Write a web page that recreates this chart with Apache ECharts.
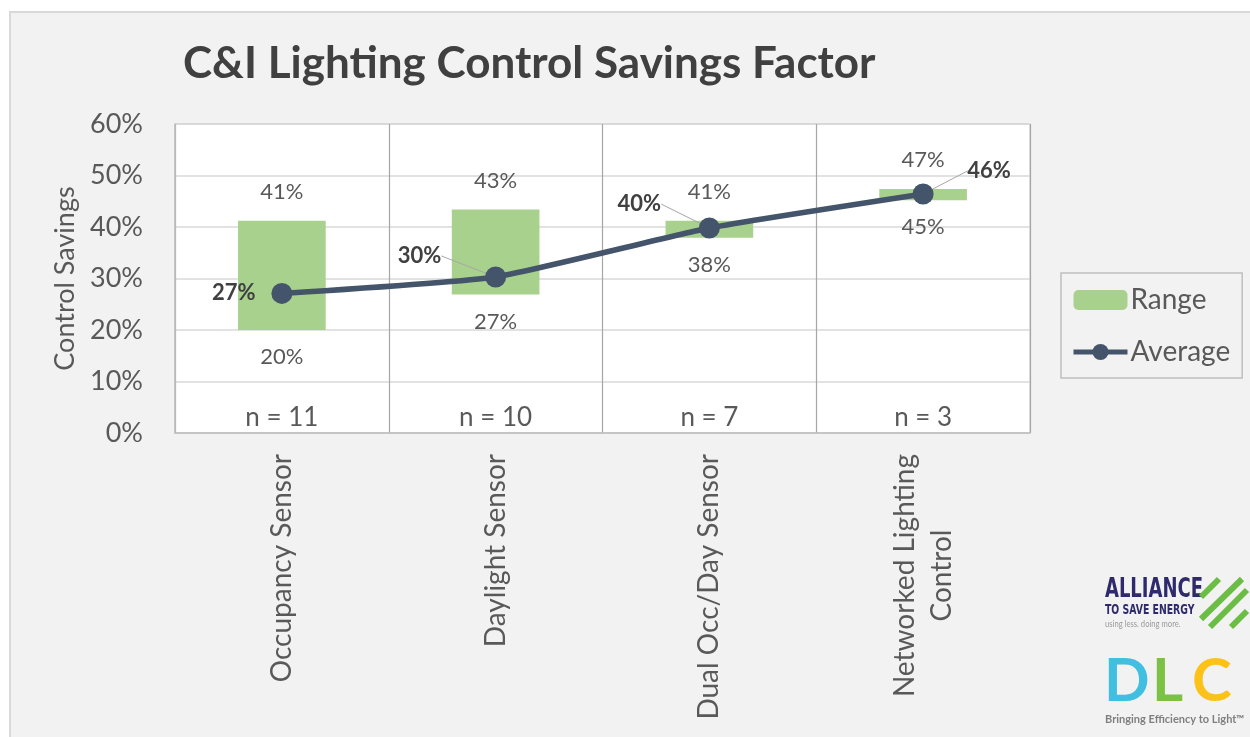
<!DOCTYPE html>
<html>
<head>
<meta charset="utf-8">
<title>C&amp;I Lighting Control Savings Factor</title>
<script src="https://cdn.jsdelivr.net/npm/echarts@6/dist/echarts.min.js"></script>
<style>
  html, body { margin: 0; padding: 0; background: #fff; }
  #chart { width: 1250px; height: 737px; }
</style>
</head>
<body>
<div id="chart"></div>
<script>
// values
const categories = ['Occupancy Sensor', 'Daylight Sensor', 'Dual Occ/Day Sensor', 'Networked Lighting\nControl'];
const sampleSizes = [11, 10, 7, 3];
const rangeMin = [20.0, 26.9, 37.9, 45.2];
const rangeMax = [41.2, 43.4, 41.2, 47.4];
const average = [27.1, 30.3, 39.8, 46.4];
const yTicks = [0, 10, 20, 30, 40, 50, 60];

const FONT = 'Lato, "Open Sans", sans-serif';
const NARROW = '"Liberation Sans Narrow", "DejaVu Sans Condensed", "Liberation Sans", sans-serif';
const TXT = '#595959';
// where each average label sits relative to its point
const avgLabelShift = [[-48, -1], [-76, -21], [-70, -24], [66, -23]];

let chart = echarts.init(document.getElementById('chart'));

let rangeSpan = rangeMax.map(function (v, i) { return +(v - rangeMin[i]).toFixed(2); });
let avgData = average.map(function (v, i) {
  return { value: v, labelLine: { show: i !== 0 } };
});

function centerLines (v) {
  return v.split('\n').map(function (s) { return '{c|' + s + '}'; }).join('\n');
}

chart.setOption({
  backgroundColor: '#fff',
  textStyle: { fontFamily: FONT },
  title: {
    text: 'C&I Lighting Control Savings Factor',
    left: 178,
    top: 37,
    textStyle: { fontFamily: FONT, fontSize: 44, fontWeight: 'bold', color: '#404040' }
  },
  graphic: [
    {
      type: 'rect', z: -10, silent: true,
      shape: { x: 10, y: 12, width: 1260, height: 740 },
      style: { fill: '#f2f2f2', stroke: '#d9d9d9', lineWidth: 2 }
    },
    // logos, roughly sketched
    {
      type: 'text', x: 1105, y: 576, scaleX: 0.74, silent: true,
      style: { text: 'ALLIANCE', font: 'bold 27px ' + NARROW, fill: '#2e2a6b', verticalAlign: 'top' }
    },
    {
      type: 'text', x: 1105, y: 603, scaleX: 0.74, silent: true,
      style: { text: 'TO SAVE ENERGY', font: 'bold 14px ' + NARROW, fill: '#2e2a6b', verticalAlign: 'top' }
    },
    {
      type: 'text', x: 1105, y: 620, scaleX: 0.85, silent: true,
      style: { text: 'using less. doing more.', font: '9px ' + FONT, fill: '#9a9a9a', verticalAlign: 'top' }
    },
    { type: 'line', silent: true, shape: { x1: 1201, y1: 597, x2: 1219, y2: 579 }, style: { stroke: '#6cbd45', lineWidth: 6 } },
    { type: 'line', silent: true, shape: { x1: 1201, y1: 619, x2: 1242, y2: 579 }, style: { stroke: '#6cbd45', lineWidth: 6 } },
    { type: 'line', silent: true, shape: { x1: 1210, y1: 627, x2: 1247, y2: 590 }, style: { stroke: '#6cbd45', lineWidth: 6 } },
    { type: 'line', silent: true, shape: { x1: 1231, y1: 627, x2: 1247, y2: 611 }, style: { stroke: '#6cbd45', lineWidth: 6 } },
    {
      type: 'text', left: 1104, top: 652, silent: true,
      style: { text: 'D', font: 'bold 60px ' + FONT, fill: '#41bfe0' }
    },
    {
      type: 'text', left: 1152, top: 652, silent: true,
      style: { text: 'L', font: 'bold 60px ' + FONT, fill: '#7cc242' }
    },
    {
      type: 'text', left: 1192, top: 652, silent: true,
      style: { text: 'C', font: 'bold 60px ' + FONT, fill: '#fdc218' }
    },
    {
      type: 'text', left: 1105, top: 714, silent: true,
      style: { text: 'Bringing Efficiency to Light\u2122', font: 'bold 11px ' + FONT, fill: '#7f7f7f' }
    }
  ],
  legend: {
    left: 1061,
    top: 273,
    orient: 'vertical',
    data: ['Range', 'Average'],
    itemWidth: 54,
    itemHeight: 20,
    itemGap: 24,
    padding: [13, 12, 12, 10],
    borderColor: '#bfbfbf',
    borderWidth: 1.5,
    lineStyle: { width: 5 },
    textStyle: { fontFamily: FONT, fontSize: 28, color: TXT, padding: [0, 0, 0, -2] }
  },
  grid: {
    left: 175,
    top: 124,
    right: 220,
    bottom: 304,
    show: true,
    backgroundColor: '#fff',
    borderColor: '#bfbfbf',
    borderWidth: 1
  },
  xAxis: [
    {
      type: 'category',
      data: categories,
      axisLine: { lineStyle: { color: '#bfbfbf', width: 1.5 } },
      axisTick: { show: false },
      splitLine: { show: true, lineStyle: { color: '#a6a6a6', width: 1.2 } },
      axisLabel: {
        rotate: 90,
        margin: 21,
        interval: 0,
        formatter: centerLines,
        rich: { c: { align: 'center', fontFamily: FONT, fontSize: 28, color: TXT, lineHeight: 37 } }
      }
    },
    {
      type: 'category',
      data: categories,
      position: 'bottom',
      axisLine: { show: false },
      axisTick: { show: false },
      splitLine: { show: false },
      axisLabel: {
        inside: true,
        margin: 2,
        interval: 0,
        fontFamily: FONT,
        fontSize: 26,
        color: TXT,
        formatter: function (v, i) { return 'n = ' + sampleSizes[i]; }
      }
    }
  ],
  yAxis: {
    type: 'value',
    min: yTicks[0],
    max: yTicks[yTicks.length - 1],
    interval: yTicks[1] - yTicks[0],
    name: 'Control Savings',
    nameLocation: 'middle',
    nameGap: 96,
    nameTextStyle: { fontFamily: FONT, fontSize: 27, color: TXT },
    axisLine: { show: true, lineStyle: { color: '#bfbfbf', width: 1.5 } },
    axisTick: { show: false },
    splitLine: { lineStyle: { color: '#d9d9d9', width: 1.5 } },
    axisLabel: { margin: 32, fontFamily: FONT, fontSize: 27, color: TXT, formatter: '{value}%' }
  },
  series: [
    {
      name: 'base',
      type: 'bar',
      stack: 'range',
      barWidth: '41%',
      data: rangeMin,
      itemStyle: { color: 'transparent' },
      label: {
        show: true,
        position: 'insideTop',
        distance: 16,
        fontFamily: FONT,
        fontSize: 22,
        color: TXT,
        formatter: function (p) { return Math.round(rangeMin[p.dataIndex]) + '%'; }
      },
      emphasis: { disabled: true },
      silent: true
    },
    {
      name: 'Range',
      type: 'bar',
      stack: 'range',
      barWidth: '41%',
      data: rangeSpan,
      itemStyle: { color: '#a9d18e' },
      label: {
        show: true,
        position: 'top',
        distance: 18,
        fontFamily: FONT,
        fontSize: 22,
        color: TXT,
        formatter: function (p) { return Math.round(rangeMax[p.dataIndex]) + '%'; }
      }
    },
    {
      name: 'Average',
      type: 'line',
      data: avgData,
      smooth: 0.15,
      symbol: 'circle',
      symbolSize: 21,
      color: '#44546a',
      lineStyle: { width: 5.5, color: '#44546a' },
      itemStyle: { color: '#44546a' },
      label: {
        show: true,
        position: 'inside',
        fontFamily: FONT,
        fontSize: 22,
        fontWeight: 'bold',
        color: '#404040',
        formatter: function (p) { return Math.round(average[p.dataIndex]) + '%'; }
      },
      labelLine: { show: true, lineStyle: { color: '#a6a6a6', width: 1 } },
      labelLayout: function (p) {
        let s = avgLabelShift[p.dataIndex];
        return { dx: s[0], dy: s[1] };
      },
      z: 5
    }
  ]
});
</script>
</body>
</html>
